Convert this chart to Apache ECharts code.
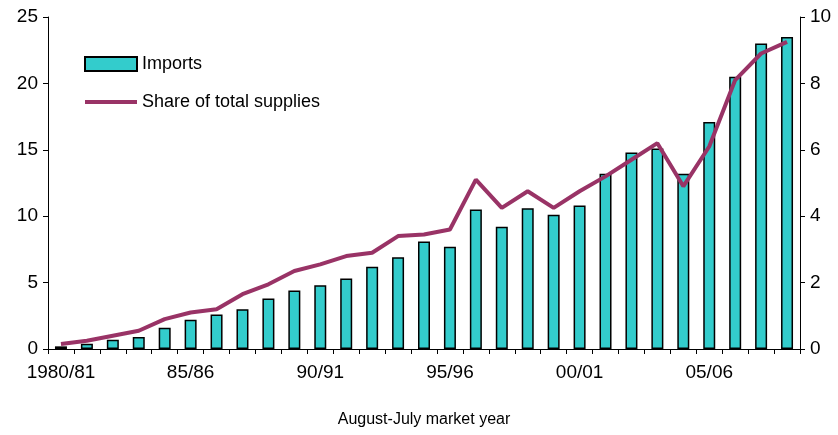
<!DOCTYPE html>
<html><head><meta charset="utf-8">
<script src="https://cdn.jsdelivr.net/npm/echarts@6/dist/echarts.min.js"></script>
<style>body{margin:0}#c{width:838px;height:435px}</style></head>
<body><div id="c"></div>
<script>
var years = [];
for (var y = 1980; y <= 2008; y++) {
  var a = String(y % 100).padStart(2,'0'), b = String((y + 1) % 100).padStart(2,'0');
  years.push(y == 1980 ? '1980/81' : a + '/' + b);
}
var imports = [0.2,0.4,0.7,0.9,1.6,2.2,2.6,3.0,3.8,4.4,4.8,5.3,6.2,6.9,8.1,7.7,10.5,9.2,10.6,10.1,10.8,13.2,14.8,15.1,13.2,17.1,20.5,23.0,23.5];
var share = [0.15,0.25,0.4,0.55,0.9,1.1,1.2,1.65,1.95,2.35,2.55,2.8,2.9,3.4,3.45,3.6,5.1,4.25,4.75,4.25,4.75,5.2,5.7,6.2,4.9,6.1,8.1,8.9,9.25];

var myChart = echarts.init(document.getElementById('c'));
var font = 'Arial, Liberation Sans, sans-serif';
myChart.setOption({
  animation:false,
  textStyle:{fontFamily:font},
  grid:{left:48,right:38,top:17,bottom:86},
  legend:{
    left:78, top:50, orient:'vertical', itemGap:20, itemWidth:52, itemHeight:14,
    textStyle:{fontSize:18,color:'#000',fontFamily:font},
    data:[{name:'Imports',icon:'rect'},
          {name:'Share of total supplies',itemStyle:{opacity:0},lineStyle:{width:4,color:'#993366'}}]
  },
  xAxis:{
    type:'category', data:years,
    axisLine:{lineStyle:{color:'#000'}},
    axisTick:{show:true,interval:0,lineStyle:{color:'#000'}},
    axisLabel:{interval:4,color:'#000',fontSize:19,margin:14},
    name:'August-July market year', nameLocation:'middle', nameGap:63,
    nameTextStyle:{fontSize:16,color:'#000'}
  },
  yAxis:[{
    type:'value', min:0, max:25, interval:5,
    axisLine:{show:true,lineStyle:{color:'#000'}},
    axisTick:{show:true,lineStyle:{color:'#000'}},
    splitLine:{show:false},
    axisLabel:{color:'#000',fontSize:19,margin:10}
  },{
    type:'value', min:0, max:10, interval:2,
    axisLine:{show:true,lineStyle:{color:'#000'}},
    axisTick:{show:true,lineStyle:{color:'#000'}},
    splitLine:{show:false},
    axisLabel:{color:'#000',fontSize:19,margin:10}
  }],
  series:[{
    name:'Imports', type:'bar', data:imports, barWidth:12,
    itemStyle:{color:'#33CCCC',borderColor:'#000',borderWidth:1.5}
  },{
    name:'Share of total supplies', type:'line', yAxisIndex:1, data:share,
    symbol:'none', lineStyle:{color:'#993366',width:4}, itemStyle:{color:'#993366'}
  }]
});
</script></body></html>
